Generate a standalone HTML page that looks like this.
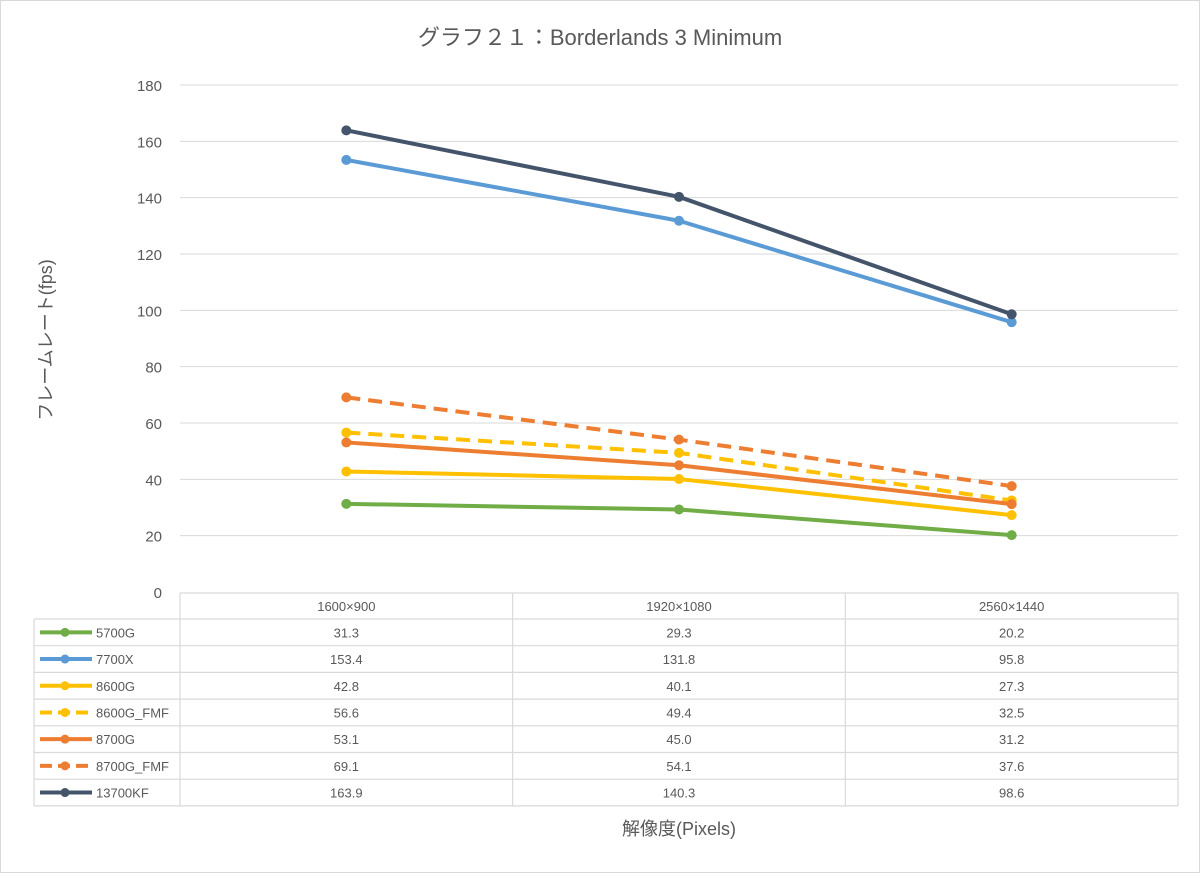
<!DOCTYPE html>
<html><head><meta charset="utf-8"><style>
body{margin:0;background:#fff;font-family:"Liberation Sans","Noto Sans CJK JP",sans-serif;}
svg text{fill:#595959;font-family:"Liberation Sans","Noto Sans CJK JP",sans-serif;}
</style></head><body>
<svg id="c" width="1200" height="873" xmlns="http://www.w3.org/2000/svg">
<rect x="0.5" y="0.5" width="1199" height="872" fill="#fff" stroke="#d9d9d9"/>
<text x="600" y="45" font-size="22" text-anchor="middle">グラフ２１：Borderlands 3 Minimum</text>
<text transform="translate(52,340) rotate(-90)" font-size="18" text-anchor="middle">フレームレート(fps)</text>
<text x="679" y="835" font-size="18" text-anchor="middle">解像度(Pixels)</text>
<g id="grid"></g><g id="table"></g><g id="series"></g>
</svg>
<script>
const categories=["1600×900","1920×1080","2560×1440"];
const seriesNames=["5700G","7700X","8600G","8600G_FMF","8700G","8700G_FMF","13700KF"];
const s5700G=[31.3,29.3,20.2];
const s7700X=[153.4,131.8,95.8];
const s8600G=[42.8,40.1,27.3];
const s8600GFMF=[56.6,49.4,32.5];
const s8700G=[53.1,45.0,31.2];
const s8700GFMF=[69.1,54.1,37.6];
const s13700KF=[163.9,140.3,98.6];
const yTicks=[0,20,40,60,80,100,120,140,160,180];
const seriesValues=[s5700G,s7700X,s8600G,s8600GFMF,s8700G,s8700GFMF,s13700KF];
const colors=["#70ad47","#5b9bd5","#ffc000","#ffc000","#ed7d31","#ed7d31","#44546a"];
const dashed=[false,false,false,true,false,true,false];
const NS="http://www.w3.org/2000/svg";
const x0=180,x1=1178,yTop=85,yBot=592,yMax=180;
const colW=(x1-x0)/categories.length;
const xs=i=>x0+colW*(i+0.5);
const ys=v=>yBot-(v/yMax)*(yBot-yTop);
function mk(tag,attrs,parent){const e=document.createElementNS(NS,tag);for(const k in attrs)e.setAttribute(k,attrs[k]);parent.appendChild(e);return e;}
const grid=document.getElementById('grid');
yTicks.forEach(t=>{
 if(t>0){const l=mk('line',{x1:x0,x2:x1,y1:ys(t),y2:ys(t),stroke:'#d9d9d9','stroke-width':1},grid);
 
 }
 const tx=mk('text',{x:162,y:ys(t)+6,'font-size':15,'text-anchor':'end'},grid);tx.textContent=t;
 
 
});
// table
const tb=document.getElementById('table');
const rowTop=619,rowH=26.7,hdrTop=593,tl=34;
const rows=seriesNames.length;
const bottom=rowTop+rowH*rows;
const st={stroke:'#d9d9d9','stroke-width':1.2};
mk('line',Object.assign({x1:x0,x2:x1,y1:hdrTop,y2:hdrTop},st),tb);
for(let r=0;r<=rows;r++){mk('line',Object.assign({x1:tl,x2:x1,y1:rowTop+r*rowH,y2:rowTop+r*rowH},st),tb);}
mk('line',Object.assign({x1:tl,x2:tl,y1:rowTop,y2:bottom},st),tb);
for(let c=0;c<=categories.length;c++){mk('line',Object.assign({x1:x0+c*colW,x2:x0+c*colW,y1:hdrTop,y2:bottom},st),tb);}
categories.forEach((c,i)=>{const t=mk('text',{x:xs(i),y:hdrTop+18,'font-size':13,'text-anchor':'middle'},tb);t.textContent=c;
 
 });
seriesNames.forEach((n,r)=>{
 const cy=rowTop+r*rowH+rowH/2;
 const g=mk('g',{},tb);
 
 
 mk('line',{x1:40,x2:92,y1:cy,y2:cy,stroke:colors[r],'stroke-width':4,'stroke-dasharray':dashed[r]?'12,6':'none'},g);
 mk('circle',{cx:65,cy:cy,r:4.5,fill:colors[r]},g);
 const t=mk('text',{x:96,y:cy+5,'font-size':13,'text-anchor':'start'},g);t.textContent=n;
 seriesValues[r].forEach((v,i)=>{const tv=mk('text',{x:xs(i),y:cy+5,'font-size':13,'text-anchor':'middle'},tb);tv.textContent=v.toFixed(1);
 
 });
});
// series
const sg=document.getElementById('series');
seriesValues.forEach((vals,r)=>{
 const g=mk('g',{},sg);
 
 
 const pts=vals.map((v,i)=>xs(i)+','+ys(v)).join(' ');
 mk('polyline',{points:pts,fill:'none',stroke:colors[r],'stroke-width':4,'stroke-dasharray':dashed[r]?'14,8':'none','stroke-linejoin':'round'},g);
 vals.forEach((v,i)=>{const c=mk('circle',{cx:xs(i),cy:ys(v),r:5,fill:colors[r]},g);
 
 });
});
</script>
</body></html>
